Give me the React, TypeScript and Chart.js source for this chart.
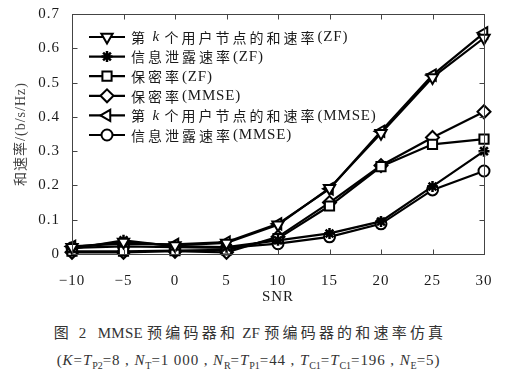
import React, { useEffect, useRef } from 'react';
import { Chart, registerables } from 'chart.js';

Chart.register(...registerables);

const snr = [-10, -5, 0, 5, 10, 15, 20, 25, 30];
const sumRateZF = [0.02, 0.035, 0.025, 0.032, 0.085, 0.192, 0.352, 0.515, 0.63];
const leakRateZF = [0.015, 0.04, 0.022, 0.02, 0.04, 0.06, 0.095, 0.197, 0.3];
const secrecyZF = [0.008, 0.008, 0.01, 0.012, 0.045, 0.14, 0.255, 0.32, 0.335];
const secrecyMMSE = [0.005, 0.005, 0.008, 0.005, 0.05, 0.15, 0.258, 0.34, 0.415];
const sumRateMMSE = [0.022, 0.03, 0.028, 0.035, 0.088, 0.19, 0.358, 0.522, 0.645];
const leakRateMMSE = [0.018, 0.022, 0.02, 0.018, 0.03, 0.05, 0.088, 0.187, 0.242];

const seriesLabels = [
  '第 k 个用户节点的和速率(ZF)',
  '信息泄露速率(ZF)',
  '保密率(ZF)',
  '保密率(MMSE)',
  '第 k 个用户节点的和速率(MMSE)',
  '信息泄露速率(MMSE)',
];
const seriesValues = [sumRateZF, leakRateZF, secrecyZF, secrecyMMSE, sumRateMMSE, leakRateMMSE];

const xTitle = 'SNR';
const yTitle = '和速率/(b/s/Hz)';
const captionCJK1 = '图 2';
const captionRest1 = 'MMSE 预编码器和 ZF 预编码器的和速率仿真';

const LATIN = "'Liberation Serif', 'Times New Roman', serif";
const CJK = "'Noto Sans CJK SC', sans-serif";
const MIXED = "'Liberation Serif', 'Noto Sans CJK SC', serif";
const INK = '#1a1a1a';

const markerStyles = [
  { pointStyle: 'triangle', rotation: 180, radius: 6.5, bg: '#ffffff', bw: 2 },
  { pointStyle: 'star', rotation: 0, radius: 5.5, bg: '#000000', bw: 2.5 },
  { pointStyle: 'rect', rotation: 0, radius: 6.5, bg: '#ffffff', bw: 2 },
  { pointStyle: 'rectRot', rotation: 0, radius: 6.5, bg: '#ffffff', bw: 2 },
  { pointStyle: 'triangle', rotation: 270, radius: 6.5, bg: '#ffffff', bw: 2 },
  { pointStyle: 'circle', rotation: 0, radius: 5.5, bg: '#ffffff', bw: 2 },
];

function drawMarker(ctx: CanvasRenderingContext2D, style: string, x: number, y: number, r: number, rotDeg: number, bg: string, bw: number) {
  let rad = (rotDeg * Math.PI) / 180;
  ctx.save();
  ctx.lineWidth = bw;
  ctx.strokeStyle = '#000';
  ctx.fillStyle = bg;
  ctx.beginPath();
  if (style === 'triangle') {
    const T = (2 * Math.PI) / 3;
    ctx.moveTo(x + Math.sin(rad) * r, y - Math.cos(rad) * r);
    rad += T;
    ctx.lineTo(x + Math.sin(rad) * r, y - Math.cos(rad) * r);
    rad += T;
    ctx.lineTo(x + Math.sin(rad) * r, y - Math.cos(rad) * r);
    ctx.closePath();
    ctx.fill();
    ctx.stroke();
  } else if (style === 'rect') {
    const s = Math.SQRT1_2 * r;
    ctx.rect(x - s, y - s, 2 * s, 2 * s);
    ctx.fill();
    ctx.stroke();
  } else if (style === 'rectRot') {
    ctx.moveTo(x - r, y);
    ctx.lineTo(x, y - r);
    ctx.lineTo(x + r, y);
    ctx.lineTo(x, y + r);
    ctx.closePath();
    ctx.fill();
    ctx.stroke();
  } else if (style === 'circle') {
    ctx.arc(x, y, r, 0, Math.PI * 2);
    ctx.closePath();
    ctx.fill();
    ctx.stroke();
  } else if (style === 'star') {
    ctx.moveTo(x, y - r);
    ctx.lineTo(x, y + r);
    ctx.moveTo(x - r, y);
    ctx.lineTo(x + r, y);
    const d = r * Math.SQRT1_2;
    ctx.moveTo(x - d, y - d);
    ctx.lineTo(x + d, y + d);
    ctx.moveTo(x - d, y + d);
    ctx.lineTo(x + d, y - d);
    ctx.stroke();
  }
  ctx.restore();
}

function drawRich(ctx: CanvasRenderingContext2D, text: string, x: number, y: number) {
  let cx = x;
  for (const ch of text) {
    const isCJK = /[\u3000-\u9fff\uff00-\uffef]/.test(ch);
    if (isCJK) ctx.font = `14px ${CJK}`;
    else if (ch === 'k') ctx.font = `italic 15px ${LATIN}`;
    else ctx.font = `15px ${LATIN}`;
    ctx.fillText(ch, cx, y);
    cx += ctx.measureText(ch).width + (isCJK ? 3 : 0.8);
  }
}

const spacingPlugin = {
  id: 'spacing',
  beforeDraw(chart: any) {
    chart.ctx.letterSpacing = '1px';
  },
};

const framePlugin = {
  id: 'frame',
  afterDatasetsDraw(chart: any) {
    const { ctx, chartArea: a, scales } = chart;
    ctx.save();
    ctx.letterSpacing = '0px';
    ctx.strokeStyle = '#444';
    ctx.lineWidth = 1;
    const L = Math.round(a.left) + 0.5;
    const R = Math.round(a.right) + 0.5;
    const T = Math.round(a.top) + 0.5;
    const B = Math.round(a.bottom) + 0.5;
    ctx.strokeRect(L, T, R - L, B - T);
    const tl = 5;
    ctx.beginPath();
    for (const t of scales.x.ticks) {
      const px = Math.round(scales.x.getPixelForValue(t.value)) + 0.5;
      ctx.moveTo(px, B);
      ctx.lineTo(px, B - tl);
      ctx.moveTo(px, T);
      ctx.lineTo(px, T + tl);
    }
    for (const t of scales.y.ticks) {
      const py = Math.round(scales.y.getPixelForValue(t.value)) + 0.5;
      ctx.moveTo(L, py);
      ctx.lineTo(L + tl, py);
      ctx.moveTo(R, py);
      ctx.lineTo(R - tl, py);
    }
    ctx.stroke();
    ctx.restore();
  },
};

const legendPlugin = {
  id: 'lineLegend',
  afterDraw(chart: any) {
    const { ctx } = chart;
    ctx.save();
    ctx.letterSpacing = '0px';
    const x0 = 89;
    const x1 = 125;
    const y0 = 37;
    const dy = 19.6;
    chart.data.datasets.forEach((ds: any, i: number) => {
      const y = y0 + i * dy;
      const m = markerStyles[i];
      ctx.strokeStyle = '#000';
      ctx.lineWidth = 2.2;
      ctx.beginPath();
      ctx.moveTo(x0, y);
      ctx.lineTo(x1, y);
      ctx.stroke();
      drawMarker(ctx, m.pointStyle, (x0 + x1) / 2, y, m.radius, m.rotation, m.bg, m.bw);
      ctx.fillStyle = INK;
      ctx.textBaseline = 'middle';
      ctx.textAlign = 'left';
      drawRich(ctx, ds.label, 131, y + 0.5);
    });
    ctx.restore();
  },
};

function ChartCanvas() {
  const ref = useRef<HTMLCanvasElement | null>(null);
  useEffect(() => {
    if (!ref.current) return;
    const datasets = seriesValues.map((vals, i) => ({
      label: seriesLabels[i],
      data: snr.map((x, j) => ({ x, y: vals[j] })),
      borderColor: '#000',
      borderWidth: 2.2,
      backgroundColor: markerStyles[i].bg,
      pointStyle: markerStyles[i].pointStyle,
      rotation: markerStyles[i].rotation,
      pointRadius: markerStyles[i].radius,
      pointBorderWidth: markerStyles[i].bw,
      pointBorderColor: '#000',
      pointBackgroundColor: markerStyles[i].bg,
      tension: 0,
      clip: false,
    }));
    const chart = new Chart(ref.current, {
      type: 'line',
      data: { datasets } as any,
      options: {
        responsive: false,
        animation: false,
        devicePixelRatio: 1,
        layout: { padding: { top: 14, right: 22, left: 0, bottom: 0 } },
        plugins: { legend: { display: false }, tooltip: { enabled: false } },
        scales: {
          x: {
            type: 'linear',
            min: -10,
            max: 30,
            afterFit: (s: any) => {
              s.height = 56;
            },
            grid: { display: false },
            border: { display: false },
            ticks: {
              stepSize: 5,
              padding: 10,
              color: INK,
              font: { family: LATIN, size: 15 },
              callback: (v: any) => (v < 0 ? '\u2212' + Math.abs(v) : String(v)),
            },
            title: {
              display: true,
              text: xTitle,
              color: INK,
              font: { family: LATIN, size: 15 },
              padding: { top: 0, bottom: 4 },
            },
          },
          y: {
            type: 'linear',
            min: 0,
            max: 0.7,
            afterFit: (s: any) => {
              s.width = 72;
            },
            grid: { display: false },
            border: { display: false },
            ticks: {
              stepSize: 0.1,
              padding: 4,
              color: INK,
              font: { family: LATIN, size: 15 },
              callback: (v: any) => (Math.abs(v) < 1e-9 ? '0' : Number(v).toFixed(1)),
            },
            title: {
              display: true,
              text: yTitle,
              color: '#444',
              font: { family: MIXED, size: 14 },
              padding: { top: 13, bottom: 0 },
            },
          },
        },
      } as any,
      plugins: [spacingPlugin, framePlugin, legendPlugin] as any,
    });
    return () => chart.destroy();
  }, []);
  return <canvas ref={ref} width={506} height={310} style={{ display: 'block', width: 506, height: 310 }} />;
}

const subStyle: React.CSSProperties = { fontSize: '10px', position: 'relative', top: '4px', letterSpacing: '0px' };
const cjkSpan: React.CSSProperties = { letterSpacing: '3.2px' };

export default function App() {
  return (
    <div style={{ position: 'absolute', left: 0, top: 0, width: 506, height: 374, background: '#fff', overflow: 'hidden' }}>
      <ChartCanvas />
      <div
        style={{
          position: 'absolute',
          top: 323,
          left: 0,
          width: 500,
          textAlign: 'center',
          font: `15px ${MIXED}`,
          letterSpacing: '0.3px',
          color: '#333',
          lineHeight: '20px',
          whiteSpace: 'nowrap',
        }}
      >
        <span style={cjkSpan}>{captionCJK1}</span>
        {'\u00a0\u00a0'}
        {captionRest1.split(/([\u4e00-\u9fff]+)/).map((seg, i) =>
          /[\u4e00-\u9fff]/.test(seg) ? (
            <span key={i} style={cjkSpan}>
              {seg}
            </span>
          ) : (
            <span key={i}>{seg}</span>
          ),
        )}
      </div>
      <div
        style={{
          position: 'absolute',
          top: 350,
          left: 0,
          width: 497,
          textAlign: 'center',
          font: `15px ${LATIN}`,
          letterSpacing: '0.9px',
          color: '#333',
          lineHeight: '20px',
          whiteSpace: 'nowrap',
        }}
      >
        (<i>K</i>=<i>T</i>
        <span style={subStyle}>P2</span>=8 , <i>N</i>
        <span style={subStyle}>T</span>=1 000 , <i>N</i>
        <span style={subStyle}>R</span>=<i>T</i>
        <span style={subStyle}>P1</span>=44 , <i>T</i>
        <span style={subStyle}>C1</span>=<i>T</i>
        <span style={subStyle}>C1</span>=196 , <i>N</i>
        <span style={subStyle}>E</span>=5)
      </div>
    </div>
  );
}
